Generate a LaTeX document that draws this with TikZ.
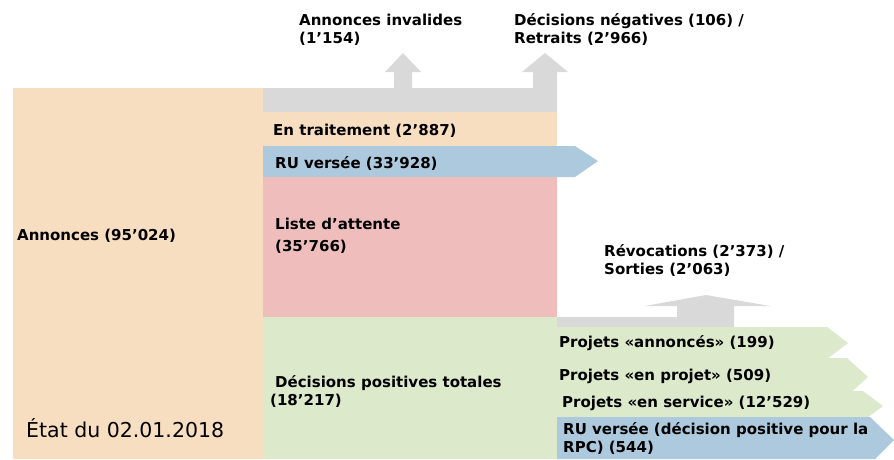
\documentclass[tikz,border=0pt]{standalone}
\usepackage{fontspec}
\setmainfont{DejaVu Sans}
\usepackage{tikz}
\definecolor{peach}{HTML}{F8DEC0}
\definecolor{grey}{HTML}{D9D9D9}
\definecolor{ublue}{HTML}{ADC9DD}
\definecolor{pink}{HTML}{F0BDBD}
\definecolor{lgreen}{HTML}{DCE9CB}

\begin{document}
\begin{tikzpicture}[x=1pt, y=-1pt, lbl/.style={anchor=base west, inner sep=0pt, align=left, font=\fontsize{15}{18}\selectfont\bfseries}]
\useasboundingbox (0,0) rectangle (894,459);
\fill[peach] (13,88) rectangle (263,459);
\fill[grey] (263,112) -- (263,88) -- (394,88) -- (394,72) -- (385,72) -- (403,53) -- (421,72) -- (412,72) -- (412,88) -- (533,88) -- (533,72) -- (522,72) -- (545,53) -- (568,72) -- (557,72) -- (557,112) -- cycle;
\fill[peach] (263,112) rectangle (557,146);
\fill[ublue] (263,146) -- (575,146) -- (598,161) -- (575,177) -- (263,177) -- cycle;
\fill[pink] (263,177) rectangle (557,317);
\fill[lgreen] (263,317) rectangle (557,459);
\fill[grey] (557,317) -- (677,317) -- (677,306) -- (645,306) -- (706,295) -- (770,306) -- (734,306) -- (734,327) -- (557,327) -- cycle;
\fill[lgreen] (557,327) -- (827,327) -- (848,343) -- (827,359) -- (557,359) -- cycle;
\fill[lgreen] (557,358) -- (847,358) -- (868,377) -- (847,396) -- (557,396) -- cycle;
\fill[lgreen] (557,391) -- (863,391) -- (883,406) -- (863,421) -- (557,421) -- cycle;
\fill[ublue] (557,417) -- (870,417) -- (894,440) -- (875,459) -- (557,459) -- cycle;

\node[lbl] (annonces) at (17,240) {Annonces (95’024)};
\node[anchor=base west, inner sep=0pt, font=\fontsize{20.5}{24}\selectfont] (etat) at (26,437) {État du 02.01.2018};
\node[lbl] (invalides) at (299,43) {Annonces invalides\\(1’154)};
\node[lbl] (negatives) at (514,43) {Décisions négatives (106) /\\Retraits (2’966)};
\node[lbl] (traitement) at (273,135) {En traitement (2’887)};
\node[lbl] (versee) at (275,168) {RU versée (33’928)};
\node[lbl] (attente) at (275,251) {Liste d’attente\\[4pt](35’766)};
\node[lbl] (positives) at (275,405) {Décisions positives totales\\\hspace*{-5pt}(18’217)};
\node[lbl] (revocations) at (604,274) {Révocations (2’373) /\\Sorties (2’063)};
\node[lbl] (annonces-p) at (559,347) {Projets «annoncés» (199)};
\node[lbl] (projet-p) at (559,380) {Projets «en projet» (509)};
\node[lbl] (service-p) at (562,407) {Projets «en service» (12’529)};
\node[lbl] (rpc) at (563,452) {RU versée (décision positive pour la\\RPC) (544)};
\end{tikzpicture}
\end{document}
